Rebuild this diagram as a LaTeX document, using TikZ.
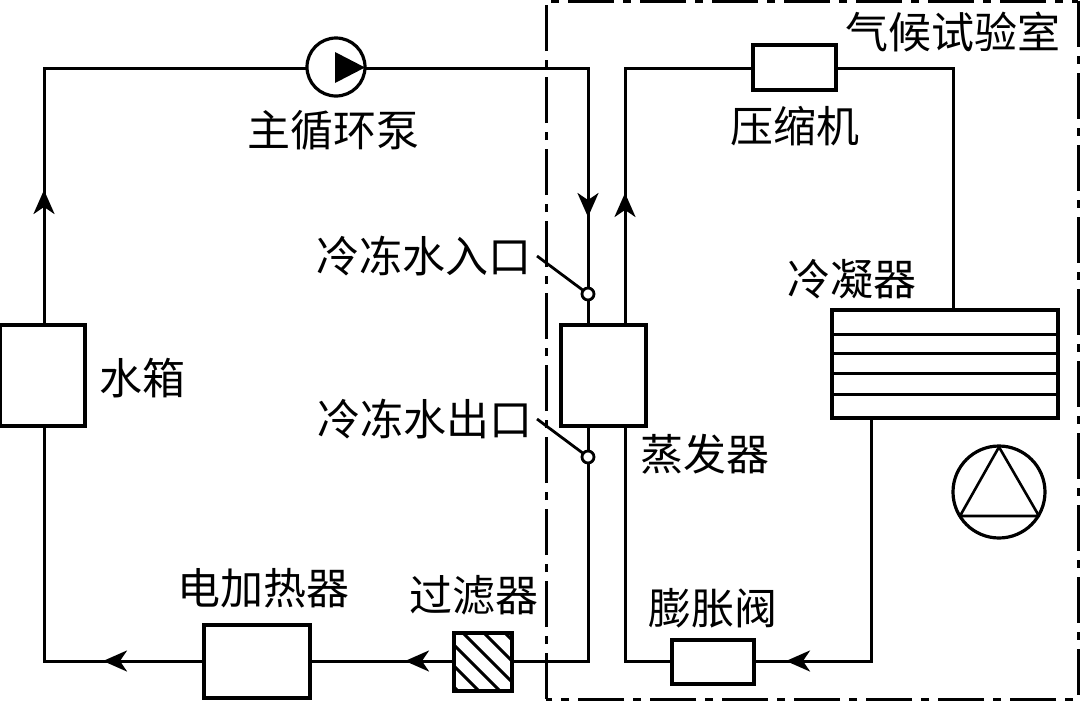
\documentclass[tikz,border=0pt]{standalone}
\usepackage{fontspec}
\setmainfont{Noto Sans CJK SC}
\usetikzlibrary{arrows.meta}
\tikzset{
  x=1pt,y=-1pt,
  pipe/.style={line width=3pt,line join=miter},
  box/.style={draw,line width=3.2pt,fill=white,inner sep=0pt,outer sep=0pt,anchor=center},
  label/.style={inner sep=0pt,font=\fontsize{43}{43}\selectfont,text=black},
  flow/.style={line width=3pt,-{Stealth[length=24pt,width=21pt,inset=7pt]}},
  frameline/.style={line width=3pt,dash pattern=on 46pt off 9pt on 8pt off 9pt},
  port/.style={circle,draw,line width=2.8pt,fill=white,minimum size=12pt,inner sep=0pt,outer sep=0pt},
}
\begin{document}
\begin{tikzpicture}
\useasboundingbox (0,0) rectangle (1080,702);
% climate room frame
\draw[frameline] (546,699) -- (546,1) -- (1078,1);
\draw[frameline] (1078,1) -- (1078,699) -- (546,699);

% components
\node[box,minimum width=85pt,minimum height=101pt] (tank) at (42.5,375.5) {};
\node[box,minimum width=85pt,minimum height=101pt] (evap) at (603.5,375.5) {};
\node[box,minimum width=83pt,minimum height=45pt] (comp) at (794.5,67.5) {};
\node[box,minimum width=226pt,minimum height=108pt] (cond) at (945,364) {};
\node[box,minimum width=82pt,minimum height=44pt] (valve) at (713,662) {};
\node[box,minimum width=106pt,minimum height=73pt] (heater) at (257,661.5) {};
\node[box,minimum width=58pt,minimum height=58pt] (filter) at (483,662) {};
\node[circle,draw,line width=3.2pt,fill=white,minimum size=58pt,inner sep=0pt,outer sep=0pt] (pump) at (336,67) {};
\node[circle,draw,line width=3.2pt,minimum size=92pt,inner sep=0pt,outer sep=0pt] (fan) at (999,492) {};

% routing points
\coordinate (tl) at (44,68);
\coordinate (tr) at (588,68);
\coordinate (rl) at (625,68);
\coordinate (rr) at (953,68);
\coordinate (bl) at (44,661);
\coordinate (bm) at (588,661);
\coordinate (bn) at (625,661);
\coordinate (br) at (871,661);
\coordinate (tanktop) at (44,325);
\coordinate (tankbot) at (44,426);
\coordinate (evapLT) at (588,325);
\coordinate (evapLB) at (588,426);
\coordinate (evapRT) at (625,325);
\coordinate (evapRB) at (625,426);
\coordinate (condT) at (953,310);
\coordinate (condB) at (871,418);
\coordinate (heatR) at (310,661);
\coordinate (heatL) at (204,661);
\coordinate (filtR) at (512,661);
\coordinate (filtL) at (454,661);
\coordinate (valR) at (754,661);
\coordinate (valL) at (672,661);

% water loop
\draw[pipe] (tanktop) -- (tl) -- (pump.west |- tl);
\draw[pipe] (pump.east |- tl) -- (tr) -- (evapLT);
\draw[pipe] (evapLB) -- (bm) -- (filtR);
\draw[pipe] (filtL) -- (heatR);
\draw[pipe] (heatL) -- (bl) -- (tankbot);
% refrigerant loop
\draw[pipe] (evapRT) -- (rl) -- (comp.west |- rl);
\draw[pipe] (comp.east |- rr) -- (rr) -- (condT);
\draw[pipe] (condB) -- (br) -- (valR);
\draw[pipe] (valL) -- (bn) -- (evapRB);

% flow arrows
\coordinate (a1s) at (44,240); \coordinate (a1e) at (44,190);
\coordinate (a2s) at (588,170); \coordinate (a2e) at (588,217);
\coordinate (a3s) at (625,240); \coordinate (a3e) at (625,193);
\coordinate (a4s) at (440,661); \coordinate (a4e) at (405,661);
\coordinate (a5s) at (830,661); \coordinate (a5e) at (786,661);
\coordinate (a6s) at (150,661); \coordinate (a6e) at (103,661);
\foreach \s/\e in {a1s/a1e,a2s/a2e,a3s/a3e,a4s/a4e,a5s/a5e,a6s/a6e}
  \draw[flow] (\s) -- (\e);

% pump triangle
\fill (335,52) -- (365,67.5) -- (335,83) -- cycle;

% filter hatch
\begin{scope}
\clip (454,633) rectangle (512,691);
\foreach \c in {-128,-149,-170,-191,-212,-233}
  \draw[line width=3pt] (400,400-\c) -- (600,600-\c);
\end{scope}
\draw[line width=3.2pt] (filter.north west) rectangle (filter.south east);

% condenser fins
\foreach \y in {334,353,373,394}
  \draw[line width=3pt] (832,\y) -- (1058,\y);

% fan triangle
\draw[line width=2.6pt,line join=round] (999,447) -- (960,516) -- (1039,516) -- cycle;

% measuring ports
\node[port] (pin) at (588,294) {};
\node[port] (pout) at (588,457) {};
\coordinate (lin) at (537,256);
\coordinate (lout) at (537,419);
\draw[line width=2.8pt] (lin) -- (pin);
\draw[line width=2.8pt] (lout) -- (pout);

% labels
\node[label] (t1) at (953,32) {气候试验室};
\node[label] (t2) at (333,130) {主循环泵};
\node[label] (t3) at (795,126) {压缩机};
\node[label] (t4) at (423.5,256) {冷冻水入口};
\node[label] (t5) at (425,419) {冷冻水出口};
\node[label] (t6) at (142,378) {水箱};
\node[label] (t7) at (851.5,279) {冷凝器};
\node[label] (t8) at (704.5,454) {蒸发器};
\node[label] (t9) at (263,588) {电加热器};
\node[label] (t10) at (473.5,595) {过滤器};
\node[label] (t11) at (713,608) {膨胀阀};
\end{tikzpicture}
\end{document}
